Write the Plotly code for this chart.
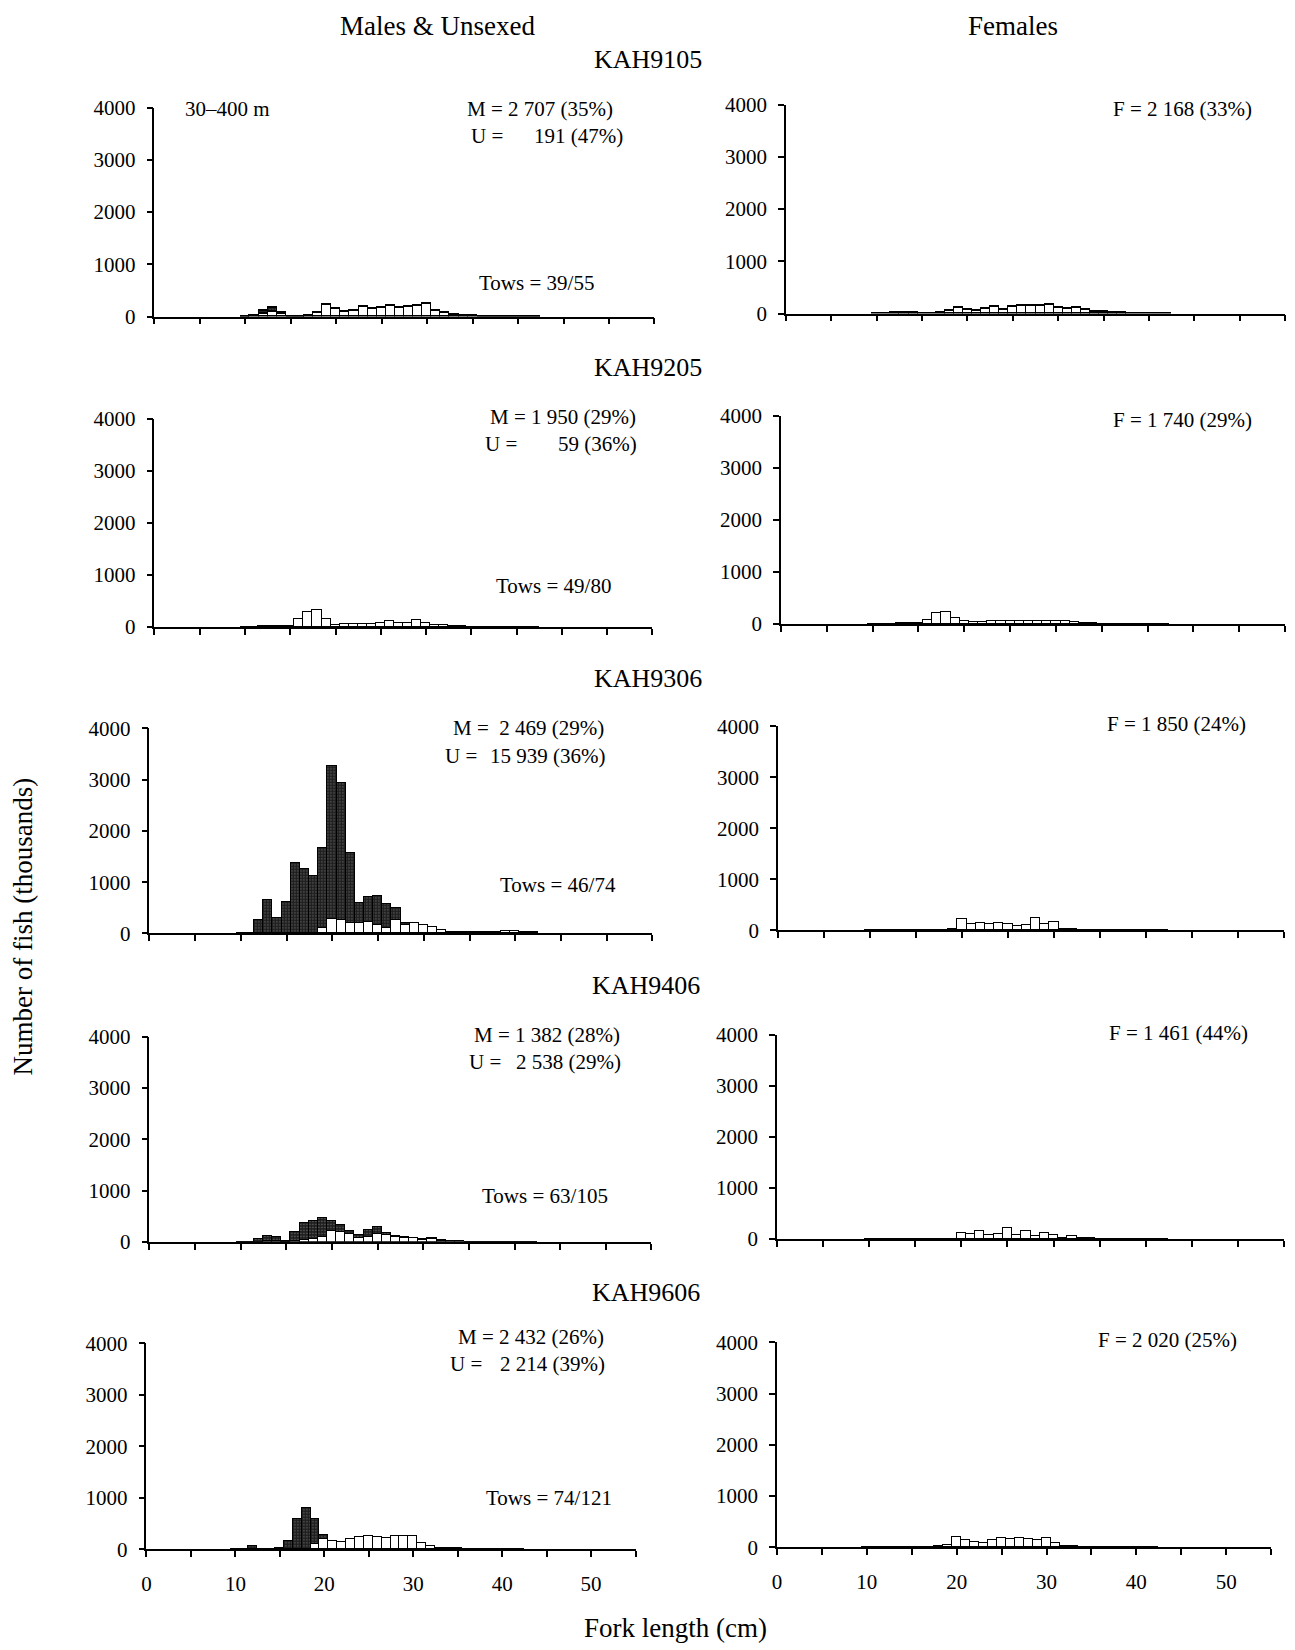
import plotly.graph_objects as go

# ---------------- data (thousands of fish per 1-cm fork-length class) ----------------
fork_length = list(range(10, 43))  # class centres, cm
x_tick_vals = [0, 5, 10, 15, 20, 25, 30, 35, 40, 45, 50, 55]
x_tick_text = ["0", "", "10", "", "20", "", "30", "", "40", "", "50", ""]
y_tick_vals = [0, 1000, 2000, 3000, 4000]

cruises = ["KAH9105", "KAH9205", "KAH9306", "KAH9406", "KAH9606"]

#               10 11  12  13  14  15   16   17   18   19   20   21   22   23   24   25   26   27   28   29   30   31   32   33   34  35  36  37  38  39  40  41  42
kah9105_males = [0, 10, 60, 100, 50, 0, 0, 20, 80, 220, 150, 100, 120, 190, 160, 180, 200, 170, 190, 200, 240, 120, 70, 40, 20, 10, 5, 5, 5, 0, 0, 0, 0]
kah9105_unsexed = [0, 0, 50, 70, 30, 0, 0, 0, 0, 0, 0, 0, 0, 0, 0, 0, 0, 0, 0, 0, 0, 0, 0, 0, 0, 0, 0, 0, 0, 0, 0, 0, 0]
kah9105_females = [0, 5, 15, 15, 10, 5, 0, 20, 64, 109, 77, 64, 90, 141, 77, 141, 154, 154, 154, 173, 122, 96, 109, 77, 45, 30, 20, 10, 5, 0, 0, 0, 0]

kah9205_males = [0, 5, 15, 20, 20, 10, 149, 278, 330, 162, 45, 60, 60, 50, 50, 70, 110, 70, 80, 130, 80, 40, 30, 20, 10, 5, 0, 0, 0, 0, 0, 0, 0]
kah9205_unsexed = [0, 0, 0, 0, 0, 0, 0, 0, 0, 0, 0, 0, 0, 0, 0, 0, 0, 0, 0, 0, 0, 0, 0, 0, 0, 0, 0, 0, 0, 0, 0, 0, 0]
kah9205_females = [0, 0, 5, 10, 10, 20, 77, 206, 226, 110, 65, 32, 45, 55, 50, 55, 65, 60, 55, 65, 60, 50, 30, 20, 10, 5, 0, 0, 0, 0, 0, 0, 0]

kah9306_males = [0, 0, 0, 0, 0, 0, 0, 0, 0, 100, 280, 250, 196, 196, 216, 163, 100, 260, 160, 200, 160, 110, 50, 25, 20, 20, 25, 25, 25, 30, 35, 20, 10]
kah9306_unsexed = [0, 0, 260, 640, 294, 601, 1360, 1255, 1111, 1567, 2988, 2678, 1373, 392, 490, 556, 456, 230, 40, 0, 0, 0, 0, 0, 0, 0, 0, 0, 0, 0, 0, 0, 0]
kah9306_females = [0, 0, 0, 0, 0, 0, 0, 0, 0, 10, 210, 112, 132, 112, 132, 118, 79, 99, 230, 118, 164, 20, 10, 5, 5, 0, 0, 0, 0, 0, 0, 0, 0]

kah9406_males = [0, 0, 0, 20, 20, 0, 20, 40, 60, 100, 205, 198, 152, 86, 90, 160, 140, 100, 80, 70, 45, 60, 25, 15, 10, 5, 0, 0, 0, 0, 0, 0, 0]
kah9406_unsexed = [0, 0, 53, 100, 86, 10, 165, 330, 356, 370, 211, 132, 66, 46, 148, 124, 32, 19, 19, 16, 8, 13, 5, 0, 0, 0, 0, 0, 0, 0, 0, 0, 0]
kah9406_females = [0, 5, 5, 0, 0, 5, 0, 0, 0, 5, 111, 98, 163, 85, 98, 209, 78, 150, 65, 118, 78, 13, 52, 20, 10, 0, 0, 0, 0, 0, 0, 0, 0]

kah9606_males = [0, 0, 0, 0, 0, 0, 0, 0, 0, 98, 200, 163, 130, 196, 228, 261, 228, 209, 248, 248, 248, 111, 65, 20, 10, 10, 5, 0, 0, 0, 0, 0, 0]
kah9606_unsexed = [0, 0, 50, 0, 0, 20, 163, 575, 797, 489, 80, 0, 0, 0, 0, 0, 0, 0, 0, 0, 0, 0, 0, 0, 0, 0, 0, 0, 0, 0, 0, 0, 0]
kah9606_females = [0, 0, 5, 0, 0, 5, 0, 0, 10, 45, 195, 130, 98, 78, 130, 182, 163, 176, 150, 143, 182, 85, 20, 10, 5, 0, 0, 0, 0, 0, 0, 0, 0]

males = [kah9105_males, kah9205_males, kah9306_males, kah9406_males, kah9606_males]
unsexed = [kah9105_unsexed, kah9205_unsexed, kah9306_unsexed, kah9406_unsexed, kah9606_unsexed]
females = [kah9105_females, kah9205_females, kah9306_females, kah9406_females, kah9606_females]

m_text = ["M = 2 707 (35%)", "M = 1 950 (29%)", "M =  2 469 (29%)", "M = 1 382 (28%)", "M = 2 432 (26%)"]
u_text = ["191 (47%)", "59 (36%)", "15 939 (36%)", "2 538 (29%)", "2 214 (39%)"]
f_text = ["F = 2 168 (33%)", "F = 1 740 (29%)", "F = 1 850 (24%)", "F = 1 461 (44%)", "F = 2 020 (25%)"]
tows_text = ["Tows = 39/55", "Tows = 49/80", "Tows = 46/74", "Tows = 63/105", "Tows = 74/121"]

# ---------------- layout geometry (pixels) ----------------
W, H = 1295, 1650
FONT = "Liberation Serif"
# (x_left, x_right, y_top(4000), y_bottom(0)) for left and right panels of each row
geom_left = [(150, 652, 97, 309), (150, 650, 413, 624), (145, 650, 727, 935), (145, 649, 1040, 1248), (142, 633, 1351, 1560)]
geom_right = [(784, 1285, 94, 306), (779, 1285, 410, 621), (776, 1284, 725, 932), (775, 1284, 1038, 1245), (775, 1271, 1350, 1558)]
cruise_pos = [(645, 48), (645, 361), (645, 676), (643, 988), (643, 1299)]
# (U-label left, M right, U right, M y, U y)
m_pos = [(466, 612, 622, 98, 126), (480, 635, 636, 411, 438), (440, 603, 604, 727, 755),
         (464, 619, 620, 1038, 1065), (445, 603, 604, 1345, 1372)]
tows_pos = [(593, 275), (610, 582), (615, 886), (607, 1201), (611, 1508)]
f_pos = [(1254, 98), (1254, 414), (1248, 723), (1250, 1036), (1239, 1348)]

fx = lambda px: px / W
fy = lambda py: 1 - py / H

fig = go.Figure()
annotations = []

white_bar = dict(color="white", line=dict(color="black", width=1.3))
dark_bar = dict(color="#1e1e1e", line=dict(color="black", width=1.3),
                pattern=dict(shape=".", fgcolor="#cfcfcf", bgcolor="#1e1e1e", size=3, solidity=0.15))

layout_axes = {}
for i in range(5):
    for j, g in enumerate([geom_left[i], geom_right[i]]):
        k = 2 * i + j + 1
        xn = "x" if k == 1 else f"x{k}"
        yn = "y" if k == 1 else f"y{k}"
        if j == 0:
            fig.add_trace(go.Bar(x=fork_length, y=males[i], width=1, marker=white_bar,
                                 xaxis=xn, yaxis=yn, showlegend=False, name="Males"))
            fig.add_trace(go.Bar(x=fork_length, y=unsexed[i], width=1, marker=dark_bar,
                                 xaxis=xn, yaxis=yn, showlegend=False, name="Unsexed"))
        else:
            fig.add_trace(go.Bar(x=fork_length, y=females[i], width=1, marker=white_bar,
                                 xaxis=xn, yaxis=yn, showlegend=False, name="Females"))
        x0, x1, yt, yb = g
        bottom = (i == 4)
        layout_axes["xaxis" if k == 1 else f"xaxis{k}"] = dict(
            domain=[fx(x0), fx(x1)], anchor=yn, range=[0, 55],
            tickmode="array", tickvals=x_tick_vals, ticktext=x_tick_text,
            showticklabels=bottom, ticks="outside", ticklen=6, tickwidth=1.5, tickcolor="black",
            showline=True, linecolor="black", linewidth=1.6, showgrid=False, zeroline=False,
            tickfont=dict(family=FONT, size=21, color="black"), ticklabelstandoff=9,
            fixedrange=True)
        layout_axes["yaxis" if k == 1 else f"yaxis{k}"] = dict(
            domain=[fy(yb), fy(yt)], anchor=xn, range=[0, 4000],
            tickmode="array", tickvals=y_tick_vals,
            ticks="outside", ticklen=6, tickwidth=1.5, tickcolor="black",
            showline=True, linecolor="black", linewidth=1.6, showgrid=False, zeroline=False,
            tickfont=dict(family=FONT, size=21, color="black"), ticklabelstandoff=7,
            fixedrange=True)

def txt(text, x, y, xanchor="center", size=21, angle=0):
    annotations.append(dict(text=text, x=fx(x), y=fy(y), xref="paper", yref="paper",
                            xanchor=xanchor, yanchor="middle", showarrow=False, textangle=angle,
                            font=dict(family=FONT, size=size, color="black")))

txt("Males &amp; Unsexed", 434, 14, size=27)
txt("Females", 1012, 14, size=27)
for i in range(5):
    txt(cruises[i], cruise_pos[i][0], cruise_pos[i][1], size=26)
    ul, mr, ur, my, uy = m_pos[i]
    txt(m_text[i], mr, my, xanchor="right")
    txt("U =", ul, uy, xanchor="left")
    txt(u_text[i], ur, uy, xanchor="right")
    txt(tows_text[i], tows_pos[i][0], tows_pos[i][1], xanchor="right")
    txt(f_text[i], f_pos[i][0], f_pos[i][1], xanchor="right")
txt("30–400 m", 179, 98, xanchor="left")
txt("Number of fish (thousands)", 18, 928, size=27, angle=-90)
txt("Fork length (cm)", 673, 1640, size=27)

fig.update_layout(width=W, height=H, margin=dict(l=0, r=0, t=0, b=0),
                  paper_bgcolor="white", plot_bgcolor="white",
                  barmode="stack", bargap=0, annotations=annotations,
                  font=dict(family=FONT, color="black"), **layout_axes)

fig.write_html("out.html")
